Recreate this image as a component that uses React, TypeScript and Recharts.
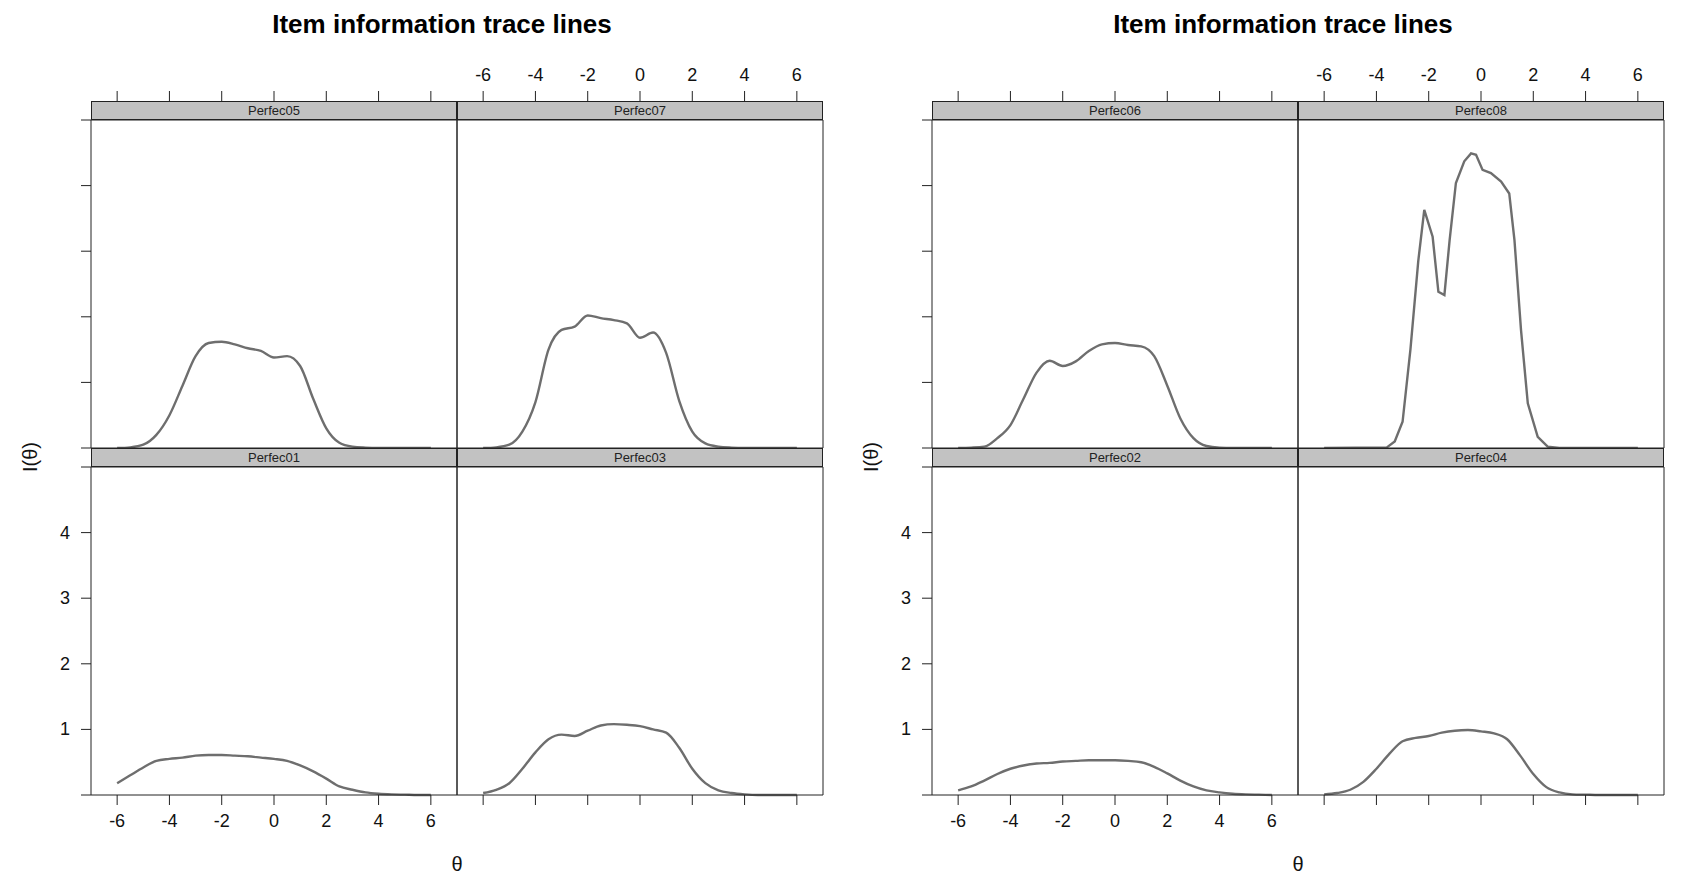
import { LineChart, Line, XAxis, YAxis } from "recharts";

// theta grid used for most items
const THETA = [
  -6, -5.5, -5, -4.5, -4, -3.5, -3, -2.5, -2, -1.5, -1, -0.5, 0, 0.5, 1, 1.5,
  2, 2.5, 3, 3.5, 4, 4.5, 5, 5.5, 6,
];

// item information values
const P05 = [0, 0.01, 0.05, 0.2, 0.5, 0.95, 1.4, 1.6, 1.62, 1.58, 1.52, 1.48, 1.38, 1.4, 1.25, 0.75, 0.3, 0.08, 0.02, 0.005, 0, 0, 0, 0, 0];
const P07 = [0, 0.01, 0.05, 0.25, 0.7, 1.5, 1.8, 1.85, 2.02, 1.98, 1.95, 1.9, 1.68, 1.76, 1.45, 0.72, 0.25, 0.07, 0.02, 0.005, 0, 0, 0, 0, 0];
const P01 = [0.18, 0.3, 0.42, 0.52, 0.55, 0.57, 0.6, 0.61, 0.61, 0.6, 0.59, 0.57, 0.55, 0.52, 0.45, 0.36, 0.25, 0.13, 0.08, 0.04, 0.02, 0.01, 0.005, 0, 0];
const P03 = [0.03, 0.08, 0.18, 0.4, 0.65, 0.85, 0.92, 0.9, 0.98, 1.06, 1.08, 1.07, 1.05, 1.0, 0.95, 0.72, 0.4, 0.18, 0.07, 0.03, 0.01, 0, 0, 0, 0];
const P06 = [0, 0.005, 0.02, 0.15, 0.35, 0.75, 1.15, 1.33, 1.25, 1.32, 1.48, 1.58, 1.6, 1.57, 1.55, 1.4, 0.95, 0.45, 0.15, 0.03, 0.005, 0, 0, 0, 0];
const P02 = [0.07, 0.13, 0.22, 0.32, 0.4, 0.45, 0.48, 0.49, 0.51, 0.52, 0.53, 0.53, 0.53, 0.52, 0.5, 0.43, 0.33, 0.22, 0.13, 0.07, 0.04, 0.02, 0.01, 0.005, 0];
const P04 = [0.01, 0.03, 0.08, 0.2, 0.4, 0.63, 0.82, 0.87, 0.9, 0.95, 0.98, 0.99, 0.97, 0.94, 0.85, 0.6, 0.32, 0.12, 0.04, 0.01, 0.005, 0, 0, 0, 0];

// Perfec08 has sharp peaks, so it gets its own grid
const THETA_08 = [-6, -3.6, -3.3, -3.0, -2.7, -2.4, -2.17, -1.85, -1.63, -1.4, -1.2, -0.96, -0.64, -0.38, -0.19, 0.06, 0.38, 0.77, 1.08, 1.28, 1.53, 1.79, 2.17, 2.55, 3, 6];
const P08 = [0, 0.01, 0.1, 0.4, 1.5, 2.85, 3.63, 3.22, 2.38, 2.33, 3.17, 4.04, 4.37, 4.49, 4.47, 4.24, 4.19, 4.06, 3.88, 3.17, 1.8, 0.68, 0.17, 0.02, 0, 0];

const X_TICKS = [-6, -4, -2, 0, 2, 4, 6];
const Y_TICKS = [0, 1, 2, 3, 4, 5];
const Y_LABELS = [1, 2, 3, 4];

const toRows = (theta: number[], vals: number[]) =>
  theta.map((t, i) => ({ theta: t, info: vals[i] }));

// layout (figure coords)
const COL_X = [91, 457];
const ROW_Y = [120, 467];
const PW = 366;
const PH = 328;
const STRIP_H = 19;
const PAD = 70;
const LINE_COLOR = "#6e6e6e";
const FONT = "'Liberation Sans', Arial, sans-serif";

type PanelProps = {
  name: string;
  data: { theta: number; info: number }[];
  row: number;
  col: number;
  linear?: boolean;
};

function Panel({ name, data, row, col, linear }: PanelProps) {
  const left = COL_X[col];
  const top = ROW_Y[row];

  const topTick = (p: any) => {
    if (row !== 0) return <g />;
    const y0 = PAD - STRIP_H;
    return (
      <g>
        <line x1={p.x} x2={p.x} y1={y0 - 10} y2={y0} stroke="#222" />
        {col === 1 && (
          <text x={p.x} y={y0 - 26} textAnchor="middle" dominantBaseline="central" fontSize={18} fill="#111" fontFamily={FONT}>
            {p.payload.value}
          </text>
        )}
      </g>
    );
  };

  const bottomTick = (p: any) => {
    if (row !== 1) return <g />;
    const y0 = PAD + PH;
    return (
      <g>
        <line x1={p.x} x2={p.x} y1={y0} y2={y0 + 10} stroke="#222" />
        {col === 0 && (
          <text x={p.x} y={y0 + 26} textAnchor="middle" dominantBaseline="central" fontSize={18} fill="#111" fontFamily={FONT}>
            {p.payload.value}
          </text>
        )}
      </g>
    );
  };

  const leftTick = (p: any) => {
    if (col !== 0) return <g />;
    const v = p.payload.value;
    return (
      <g>
        <line x1={PAD - 10} x2={PAD} y1={p.y} y2={p.y} stroke="#222" />
        {row === 1 && Y_LABELS.includes(v) && (
          <text x={PAD - 21} y={p.y} textAnchor="end" dominantBaseline="central" fontSize={18} fill="#111" fontFamily={FONT}>
            {v}
          </text>
        )}
      </g>
    );
  };

  const rightTick = (p: any) => {
    if (col !== 1) return <g />;
    const v = p.payload.value;
    const x0 = PAD + PW;
    return (
      <g>
        <line x1={x0} x2={x0 + 10} y1={p.y} y2={p.y} stroke="#222" />
        {row === 0 && Y_LABELS.includes(v) && (
          <text x={x0 + 17} y={p.y} textAnchor="start" dominantBaseline="central" fontSize={18} fill="#111" fontFamily={FONT}>
            {v}
          </text>
        )}
      </g>
    );
  };

  return (
    <>
      <div style={{ position: "absolute", left: left - PAD, top: top - PAD }}>
        <LineChart
          width={PW + 2 * PAD}
          height={PH + 2 * PAD}
          data={data}
          margin={{ top: 0, right: 0, bottom: 0, left: 0 }}
        >
          <XAxis xAxisId="top" orientation="top" dataKey="theta" type="number" domain={[-7, 7]} ticks={X_TICKS} interval={0} height={PAD} tickLine={false} axisLine={{ stroke: "#222" }} tick={topTick} />
          <XAxis xAxisId="bottom" orientation="bottom" dataKey="theta" type="number" domain={[-7, 7]} ticks={X_TICKS} interval={0} height={PAD} tickLine={false} axisLine={{ stroke: "#222" }} tick={bottomTick} />
          <YAxis yAxisId="left" orientation="left" type="number" domain={[0, 5]} ticks={Y_TICKS} interval={0} width={PAD} tickLine={false} axisLine={{ stroke: "#222" }} tick={leftTick} />
          <YAxis yAxisId="right" orientation="right" type="number" domain={[0, 5]} ticks={Y_TICKS} interval={0} width={PAD} tickLine={false} axisLine={{ stroke: "#222" }} tick={rightTick} />
          <Line
            xAxisId="bottom"
            yAxisId="left"
            dataKey="info"
            type={linear ? "linear" : "monotone"}
            stroke={LINE_COLOR}
            strokeWidth={2.4}
            dot={false}
            isAnimationActive={false}
          />
        </LineChart>
      </div>
      {/* strip with item name */}
      <div
        style={{
          position: "absolute",
          left,
          top: top - STRIP_H,
          width: PW,
          height: STRIP_H,
          boxSizing: "border-box",
          background: "#c2c2c2",
          border: "1px solid #222",
          fontSize: 13,
          lineHeight: `${STRIP_H - 2}px`,
          textAlign: "center",
          color: "#222",
          fontFamily: FONT,
        }}
      >
        {name}
      </div>
    </>
  );
}

type FigureProps = {
  x: number;
  width: number;
  panels: PanelProps[];
};

function Figure({ x, width, panels }: FigureProps) {
  return (
    <div style={{ position: "absolute", left: x, top: 0, width, height: 876, overflow: "hidden" }}>
      <div style={{ position: "absolute", left: 442, top: 24, transform: "translate(-50%,-50%)", fontWeight: "bold", fontSize: 26, whiteSpace: "nowrap", fontFamily: FONT, color: "#000" }}>
        Item information trace lines
      </div>
      {panels.map((p) => (
        <Panel key={p.name} {...p} />
      ))}
      <div style={{ position: "absolute", left: 30, top: 457, transform: "translate(-50%,-50%) rotate(-90deg)", fontSize: 20, whiteSpace: "nowrap", fontFamily: FONT, color: "#111" }}>
        I(θ)
      </div>
      <div style={{ position: "absolute", left: 457, top: 864, transform: "translate(-50%,-50%)", fontSize: 20, fontFamily: FONT, color: "#111" }}>
        θ
      </div>
    </div>
  );
}

export default function App() {
  const leftPanels: PanelProps[] = [
    { name: "Perfec05", data: toRows(THETA, P05), row: 0, col: 0 },
    { name: "Perfec07", data: toRows(THETA, P07), row: 0, col: 1 },
    { name: "Perfec01", data: toRows(THETA, P01), row: 1, col: 0 },
    { name: "Perfec03", data: toRows(THETA, P03), row: 1, col: 1 },
  ];
  const rightPanels: PanelProps[] = [
    { name: "Perfec06", data: toRows(THETA, P06), row: 0, col: 0 },
    { name: "Perfec08", data: toRows(THETA_08, P08), row: 0, col: 1, linear: true },
    { name: "Perfec02", data: toRows(THETA, P02), row: 1, col: 0 },
    { name: "Perfec04", data: toRows(THETA, P04), row: 1, col: 1 },
  ];

  return (
    <div style={{ position: "absolute", left: 0, top: 0, width: 1700, height: 876, background: "#fff" }}>
      <Figure x={0} width={844} panels={leftPanels} />
      <Figure x={841} width={859} panels={rightPanels} />
    </div>
  );
}
